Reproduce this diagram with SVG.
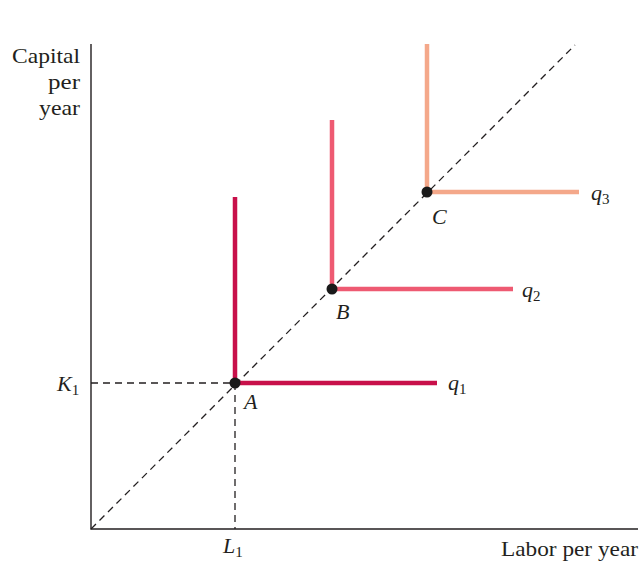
<svg xmlns="http://www.w3.org/2000/svg" width="644" height="561" viewBox="0 0 644 561">
<style>
text{font-family:"Liberation Serif","Times New Roman",serif;font-size:22px;fill:#231f20}
.it{font-style:italic}
.sub{font-size:15px;font-style:normal}
.axis{stroke:#231f20;stroke-width:1.4;fill:none}
.dash{stroke:#231f20;stroke-width:1.3;stroke-dasharray:7,5;fill:none}
.iso{fill:none;stroke-width:4.5}
.pt{fill:#1a1a1a}
</style>
<rect width="644" height="561" fill="#fff"/>
<g id="connectors">
<path class="dash" d="M91,529 L575,45"/>
<path class="dash" d="M91,383 L235,383 M235,383 L235,529"/>
</g>
<g id="axes">
<path class="axis" d="M91,44 L91,529 L638,529"/>
<text x="80" y="63" text-anchor="end" textLength="68" lengthAdjust="spacingAndGlyphs">Capital</text>
<text x="80" y="89" text-anchor="end" textLength="32" lengthAdjust="spacingAndGlyphs">per</text>
<text x="80" y="115" text-anchor="end" textLength="41" lengthAdjust="spacingAndGlyphs">year</text>
<text x="638" y="556" text-anchor="end" textLength="137" lengthAdjust="spacingAndGlyphs">Labor per year</text>
<text x="57" y="391" class="it">K<tspan class="sub" dy="4">1</tspan></text>
<text x="223" y="553" class="it">L<tspan class="sub" dy="4">1</tspan></text>
</g>
<g id="q1">
<path class="iso" stroke="#c8104a" d="M235,197 L235,383 L437,383"/>
<text x="448" y="390" class="it">q<tspan class="sub" dy="4">1</tspan></text>
</g>
<g id="q2">
<path class="iso" stroke="#ee5a72" d="M332,120 L332,289 L513,289"/>
<text x="522" y="297" class="it">q<tspan class="sub" dy="4">2</tspan></text>
</g>
<g id="q3">
<path class="iso" stroke="#f4a88a" d="M427,44 L427,192 L579,192"/>
<text x="591" y="200" class="it">q<tspan class="sub" dy="4">3</tspan></text>
</g>
<g id="A"><circle class="pt" cx="235" cy="383" r="5.5"/><text x="244" y="409" class="it">A</text></g>
<g id="B"><circle class="pt" cx="332" cy="289" r="5.5"/><text x="336" y="319" class="it">B</text></g>
<g id="C"><circle class="pt" cx="427" cy="192" r="5.5"/><text x="432" y="224" class="it">C</text></g>
</svg>
